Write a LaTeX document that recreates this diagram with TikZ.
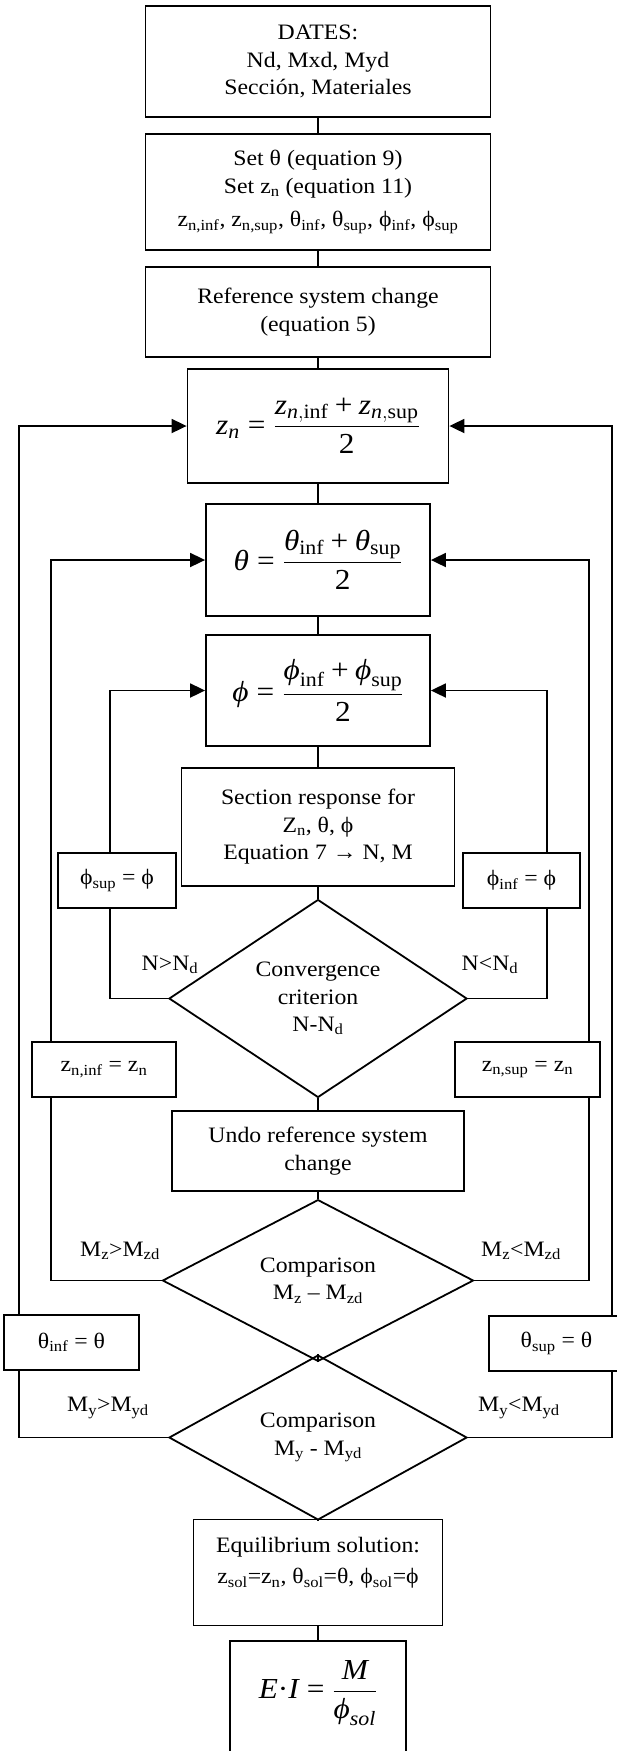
\RequirePackage{fix-cm}
\documentclass[tikz,border=0pt]{standalone}
\usepackage{amsmath}
\usepackage{fontspec}
\setmainfont{Liberation Serif}[FakeStretch=1.08]
\usetikzlibrary{shapes.geometric,arrows.meta}
\newcommand{\sbs}[1]{\textsubscript{#1}}
\newcommand{\mi}[1]{\text{\itshape #1}}
\newcommand{\meq}{\mathrel{\text{=}}}
\newcommand{\mplus}{\mathbin{\text{+}}}
\begin{document}
\begin{tikzpicture}[x=1pt,y=-1pt,line width=1.8pt,
  every node/.style={font=\fontsize{22}{27.5}\selectfont},
  box/.style={draw,rectangle,inner sep=0pt,align=center},
  dia/.style={draw,diamond,inner sep=0pt,align=center},
  arr/.style={-{Triangle[length=15pt,width=14pt]}},
  lbl/.style={inner sep=0pt},
  eqfont/.style={font=\fontsize{29}{34}\selectfont}]
\useasboundingbox (0,0) rectangle (616,1751);
% main column
\node[box,minimum width=345,minimum height=111] (b1) at (318,61.5) {DATES:\\Nd, Mxd, Myd\\Sección, Materiales};
\node[box,minimum width=345,minimum height=116] (b2) at (318,192) {Set θ (equation 9)\\Set z\sbs{n} (equation 11)\\[6pt]z\sbs{n,inf}, z\sbs{n,sup}, θ\sbs{inf}, θ\sbs{sup}, ϕ\sbs{inf}, ϕ\sbs{sup}};
\node[box,minimum width=345,minimum height=90] (b3) at (318,312) {Reference system change\\(equation 5)};
\node[box,eqfont,minimum width=261,minimum height=114] (zn) at (318,426) {$\mi{z}_{\mi{n}} \meq \dfrac{\mi{z}_{\mi{n},\text{inf}} \mplus \mi{z}_{\mi{n},\text{sup}}}{\text{2}}$};
\node[box,eqfont,minimum width=224,minimum height=112] (th) at (318,560) {$\mi{θ} \meq \dfrac{\mi{θ}_{\text{inf}} \mplus \mi{θ}_{\text{sup}}}{\text{2}}$};
\node[box,eqfont,minimum width=224,minimum height=111] (ph) at (318,690.5) {$\mi{ϕ} \meq \dfrac{\mi{ϕ}_{\text{inf}} \mplus \mi{ϕ}_{\text{sup}}}{\text{2}}$};
\node[box,minimum width=273,minimum height=118] (sec) at (318,827) {Section response for\\Z\sbs{n}, θ, ϕ\\Equation 7 → N, M};
\node[dia,minimum width=298,minimum height=191] (d1) at (318,998.5) {Convergence\\criterion\\N-N\sbs{d}};
\node[box,minimum width=292,minimum height=80] (undo) at (318,1151) {Undo reference system\\change};
\node[dia,minimum width=311,minimum height=147] (d2) at (318,1280.5) {Comparison\\M\sbs{z} – M\sbs{zd}};
\node[dia,minimum width=298,minimum height=141] (d3) at (318,1437.5) {Comparison\\M\sbs{y} - M\sbs{yd}};
\node[box,minimum width=249,minimum height=106,text depth=24pt] (eq) at (318,1572.5) {Equilibrium solution:\\[4pt]z\sbs{sol}=z\sbs{n}, θ\sbs{sol}=θ, ϕ\sbs{sol}=ϕ};
\node[box,anchor=north,minimum width=176,minimum height=125] (ei) at (318,1640) {};
\node[eqfont,inner sep=0pt] (eitext) at (318,1693) {$\mi{E}\text{·}\mi{I} \meq \dfrac{\mi{M}}{\mi{ϕ}_{\mi{sol}}}$};
% side boxes
\node[box,minimum width=118,minimum height=55] (phisup) at (117,880.5) {ϕ\sbs{sup} = ϕ};
\node[box,minimum width=117,minimum height=55] (phiinf) at (521.5,880.5) {ϕ\sbs{inf} = ϕ};
\node[box,minimum width=144,minimum height=55] (zninf) at (104,1069.5) {z\sbs{n,inf} = z\sbs{n}};
\node[box,minimum width=145,minimum height=55] (znsup) at (527.5,1069.5) {z\sbs{n,sup} = z\sbs{n}};
\node[box,minimum width=135,minimum height=55] (thinf) at (71.5,1342.5) {θ\sbs{inf} = θ};
\node[box,minimum width=135,minimum height=55] (thsup) at (556.5,1343.5) {θ\sbs{sup} = θ};
% branch labels
\node[lbl] (l1) at (170,965) {N>N\sbs{d}};
\node[lbl] (l2) at (490,965) {N<N\sbs{d}};
\node[lbl] (l3) at (120,1251) {M\sbs{z}>M\sbs{zd}};
\node[lbl] (l4) at (521,1251) {M\sbs{z}<M\sbs{zd}};
\node[lbl] (l5) at (108,1408) {M\sbs{y}>M\sbs{yd}};
\node[lbl] (l6) at (519,1408) {M\sbs{y}<M\sbs{yd}};
% loop line x positions
\coordinate (L1) at (19,0);
\coordinate (L2) at (51,0);
\coordinate (L3) at (110,0);
\coordinate (R3) at (547,0);
\coordinate (R2) at (589,0);
\coordinate (R1) at (612,0);
% main connectors
\draw (b1.south) -- (b2.north);
\draw (b2.south) -- (b3.north);
\draw (b3.south) -- (zn.north);
\draw (zn.south) -- (th.north);
\draw (th.south) -- (ph.north);
\draw (ph.south) -- (sec.north);
\draw (sec.south) -- (d1.north);
\draw (d1.south) -- (undo.north);
\draw (undo.south) -- (d2.north);
\draw (d2.south) -- (d3.north);
\draw (d3.south) -- (eq.north);
\draw (eq.south) -- (ei.north);
% loops
\draw (d1.west) -| (L3 |- phisup.south);
\draw[arr] (L3 |- phisup.north) |- (ph.west);
\draw (d1.east) -| (R3 |- phiinf.south);
\draw[arr] (R3 |- phiinf.north) |- (ph.east);
\draw (d2.west) -| (L2 |- zninf.south);
\draw[arr] (L2 |- zninf.north) |- (th.west);
\draw (d2.east) -| (R2 |- znsup.south);
\draw[arr] (R2 |- znsup.north) |- (th.east);
\draw (d3.west) -| (L1 |- thinf.south);
\draw[arr] (L1 |- thinf.north) |- (zn.west);
\draw (d3.east) -| (R1 |- thsup.south);
\draw[arr] (R1 |- thsup.north) |- (zn.east);
\end{tikzpicture}
\end{document}
